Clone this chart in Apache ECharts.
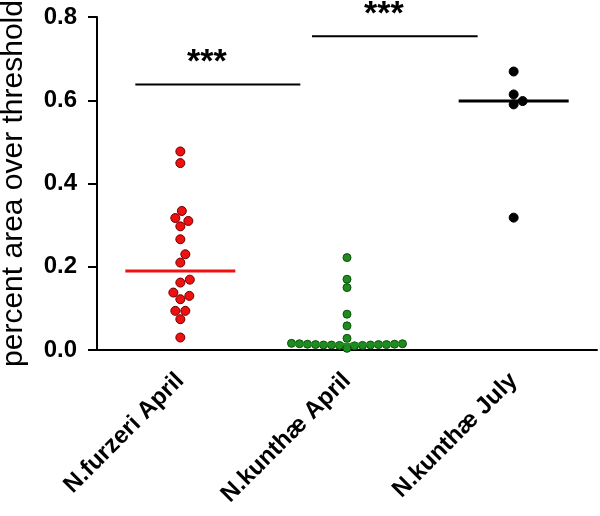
<!DOCTYPE html>
<html>
<head>
<meta charset="utf-8">
<script src="https://cdn.jsdelivr.net/npm/echarts@6/dist/echarts.min.js"></script>
<style>html,body{margin:0;padding:0;background:#fff;}#c{width:600px;height:516px;}</style>
</head>
<body>
<div id="c"></div>
<script>
// ---- data ----
const categories = ['N.furzeri April', 'N.kunth\u00e6 April', 'N.kunth\u00e6 July'];
const furzeriApril = [0.477, 0.449, 0.334, 0.317, 0.310, 0.297, 0.266, 0.230, 0.210,
                      0.169, 0.162, 0.138, 0.130, 0.122, 0.094, 0.094, 0.074, 0.030];
const kunthaeApril = [0.222, 0.170, 0.150, 0.086, 0.058, 0.028,
                      0.016, 0.015, 0.015, 0.014, 0.014, 0.013, 0.013, 0.013, 0.012,
                      0.012, 0.012, 0.011, 0.011, 0.010, 0.004];
const kunthaeJuly = [0.669, 0.614, 0.598, 0.590, 0.318];
const yTicks = [0.0, 0.2, 0.4, 0.6, 0.8];
const sigFrom = [0, 1];
const sigTo = [1, 2];
const sigLevel = [0.638, 0.754];
const sigLabel = ['***', '***'];
const yName = 'percent area over threshold';

// ---- styles ----
const groups = [furzeriApril, kunthaeApril, kunthaeJuly];
const fills = ['#f01010', '#1e8c1e', '#000000'];
const borders = ['#6a0000', '#0c4f0c', '#000000'];
const dotSize = [9, 8, 9];
const swarmGap = [9.5, 7.6, 9.5];
const sigOffsets = [[-0.27, -0.28], [-0.21, -0.216]];
const FONT = '"Liberation Sans", Arial, sans-serif';

function median(a) {
  const s = a.slice().sort((x, y) => x - y);
  const n = s.length;
  return n % 2 ? s[(n - 1) / 2] : (s[n / 2 - 1] + s[n / 2]) / 2;
}

const chart = echarts.init(document.getElementById('c'), null, {renderer: 'canvas'});

function baseOption(offsets) {
  const series = groups.map((vals, g) => ({
    type: 'scatter',
    symbolSize: dotSize[g],
    z: 2,
    itemStyle: {color: fills[g], borderColor: borders[g], borderWidth: 1, opacity: 1},
    data: vals.map((v, i) => ({value: [g, v], symbolOffset: [offsets ? offsets[g][i] : 0, 0]}))
  }));
  series.push({
    type: 'custom',
    z: 3,
    data: groups.map((vals, g) => [g, median(vals)]),
    renderItem: (params, api) => {
      const g = api.value(0);
      const c = api.coord([g, api.value(1)]);
      const bw = api.size([1, 0])[0];
      const hw = bw * 0.33;
      return {type: 'line', shape: {x1: c[0] - hw, y1: c[1], x2: c[0] + hw, y2: c[1]},
              style: {stroke: fills[g], lineWidth: 3}};
    }
  });
  series.push({
    type: 'custom',
    z: 3,
    data: sigFrom.map((f, i) => [f, sigTo[i], sigLevel[i], i]),
    renderItem: (params, api) => {
      const i = api.value(3);
      const a = api.coord([api.value(0), api.value(2)]);
      const b = api.coord([api.value(1), api.value(2)]);
      const bw = api.size([1, 0])[0];
      const x1 = a[0] + sigOffsets[i][0] * bw;
      const x2 = b[0] + sigOffsets[i][1] * bw;
      return {type: 'group', children: [
        {type: 'line', shape: {x1: x1, y1: a[1], x2: x2, y2: a[1]}, style: {stroke: '#000', lineWidth: 2}},
        {type: 'text', x: (x1 + x2) / 2 - 11, y: a[1] - 22,
         style: {text: sigLabel[i], fill: '#000', font: 'bold 34px ' + FONT,
                 align: 'center', verticalAlign: 'middle'}}
      ]};
    }
  });
  return {
    animation: false,
    backgroundColor: '#fff',
    grid: {left: 97, right: 3, top: 17, bottom: 166, outerBoundsMode: 'none', containLabel: false},
    xAxis: {
      type: 'category',
      data: categories,
      boundaryGap: true,
      axisLine: {lineStyle: {color: '#000', width: 2}},
      axisTick: {alignWithLabel: true, length: 9, lineStyle: {color: '#000', width: 2}},
      axisLabel: {rotate: 45, margin: 27, color: '#000', fontWeight: 'bold', fontSize: 24,
                  fontFamily: FONT}
    },
    yAxis: {
      type: 'value',
      min: yTicks[0], max: yTicks[yTicks.length - 1], interval: yTicks[1] - yTicks[0],
      name: yName, nameLocation: 'middle', nameGap: 68,
      nameTextStyle: {color: '#000', fontSize: 30, fontFamily: FONT},
      splitLine: {show: false},
      axisLine: {show: true, lineStyle: {color: '#000', width: 2}},
      axisTick: {show: true, length: 9, lineStyle: {color: '#000', width: 2}},
      axisLabel: {margin: 20, color: '#000', fontWeight: 'bold', fontSize: 24,
                  fontFamily: FONT, formatter: v => v.toFixed(1)}
    },
    series: series
  };
}

chart.setOption(baseOption(null));

// beeswarm layout from the axis scale
function swarm(vals, diam) {
  const order = vals.map((v, i) => i).sort((a, b) => vals[a] - vals[b]);
  const placed = [];
  const dx = new Array(vals.length).fill(0);
  for (const i of order) {
    const y = chart.convertToPixel({yAxisIndex: 0}, vals[i]);
    for (let k = 0; k < 400; k++) {
      const cand = (k % 2 === 1 ? 1 : -1) * Math.ceil(k / 2) * 0.5;
      let ok = true;
      for (const p of placed) {
        const ddx = cand - p[0], ddy = y - p[1];
        if (ddx * ddx + ddy * ddy < diam * diam) { ok = false; break; }
      }
      if (ok) { dx[i] = cand; placed.push([cand, y]); break; }
    }
  }
  return dx;
}
const offsets = groups.map((vals, g) => swarm(vals, swarmGap[g]));
chart.setOption(baseOption(offsets), true);
</script>
</body>
</html>
